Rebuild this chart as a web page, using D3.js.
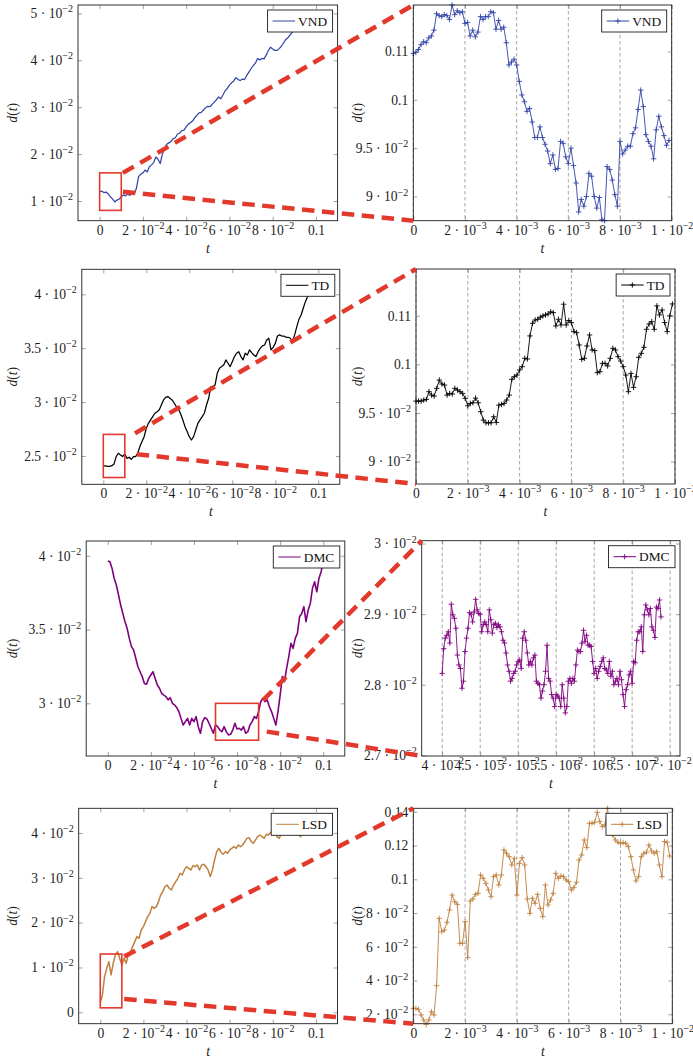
<!DOCTYPE html>
<html>
<head>
<meta charset="utf-8">
<script src="https://cdn.jsdelivr.net/npm/d3@7"></script>
<style>
  body { margin: 0; background: #fff; }
  svg { display: block; }
  text { font-family: "Liberation Serif", "Times New Roman", serif; }
</style>
</head>
<body>
<svg id="fig" width="693" height="1059"></svg>
<script>
// ---------- data ----------
// Full runs, sampled every 1e-3 starting at t = 0
const mainStep = 0.001;
const vndMain = [
  0.0120,0.0121,0.0118,0.0119,0.0115,0.0109,0.0104,0.0098,0.0102,0.0104,
  0.0109,0.0113,0.0111,0.0115,0.0112,0.0118,0.0115,0.0127,0.0152,0.0157,
  0.0160,0.0166,0.0162,0.0173,0.0177,0.0182,0.0194,0.0189,0.0180,0.0200,
  0.0212,0.0221,0.0224,0.0227,0.0233,0.0235,0.0243,0.0245,0.0250,0.0251,
  0.0258,0.0264,0.0267,0.0271,0.0278,0.0283,0.0288,0.0289,0.0294,0.0299,
  0.0302,0.0301,0.0306,0.0311,0.0316,0.0322,0.0318,0.0326,0.0335,0.0340,
  0.0347,0.0352,0.0356,0.0363,0.0359,0.0357,0.0360,0.0359,0.0368,0.0375,
  0.0382,0.0389,0.0394,0.0404,0.0401,0.0404,0.0403,0.0411,0.0421,0.0428,
  0.0424,0.0421,0.0421,0.0425,0.0430,0.0437,0.0444,0.0448,0.0454,0.0460,
  0.0465
];
const tdMain = [
  0.02407,0.02407,0.02404,0.02404,0.02410,0.02426,0.02494,0.02525,0.02509,0.02494,
  0.02519,0.02478,0.02488,0.02469,0.02494,0.02494,0.02525,0.02587,0.02633,0.02679,
  0.02757,0.02803,0.02834,0.02865,0.02896,0.02911,0.02927,0.02973,0.03020,0.03044,
  0.03051,0.03035,0.03020,0.02989,0.02958,0.02933,0.02890,0.02834,0.02772,0.02726,
  0.02679,0.02648,0.02679,0.02741,0.02803,0.02834,0.02865,0.02896,0.02973,0.03035,
  0.03143,0.03143,0.03159,0.03267,0.03313,0.03329,0.03344,0.03391,0.03360,0.03329,
  0.03375,0.03422,0.03453,0.03468,0.03422,0.03391,0.03453,0.03437,0.03484,0.03459,
  0.03437,0.03422,0.03468,0.03499,0.03521,0.03530,0.03576,0.03592,0.03484,0.03508,
  0.03545,0.03613,0.03623,0.03613,0.03613,0.03601,0.03601,0.03592,0.03561,0.03623,
  0.03700,0.03768,0.03808,0.03870,0.03932,0.03978,0.04009
];
const dmcMain = [
  0.03964,0.03959,0.03914,0.03846,0.03801,0.03734,0.03666,0.03609,0.03553,0.03508,
  0.03440,0.03384,0.03361,0.03305,0.03248,0.03214,0.03181,0.03135,0.03129,0.03169,
  0.03192,0.03214,0.03169,0.03124,0.03102,0.03068,0.03056,0.03045,0.03023,0.03038,
  0.03000,0.02989,0.02971,0.02944,0.02898,0.02853,0.02876,0.02898,0.02853,0.02898,
  0.02876,0.02910,0.02842,0.02797,0.02876,0.02903,0.02894,0.02865,0.02831,0.02797,
  0.02853,0.02842,0.02819,0.02808,0.02842,0.02808,0.02786,0.02790,0.02819,0.02865,
  0.02826,0.02831,0.02819,0.02842,0.02797,0.02808,0.02853,0.02876,0.02910,0.02898,
  0.02944,0.03011,0.03034,0.03011,0.03023,0.02977,0.02944,0.02898,0.02853,0.02944,
  0.03056,0.03181,0.03147,0.03237,0.03316,0.03406,0.03372,0.03440,0.03474,0.03587,
  0.03609,0.03655,0.03553,0.03632,0.03677,0.03779,0.03824,0.03756,0.03846,0.03892,
  0.03959
];
const lsdMain = [
  0.00223,0.00387,0.00796,0.00981,0.01130,0.00833,0.01093,0.01279,0.01353,0.01204,
  0.01056,0.01204,0.01093,0.01294,0.01353,0.01465,0.01576,0.01688,0.01651,0.01836,
  0.01911,0.02022,0.02134,0.02208,0.02357,0.02320,0.02357,0.02468,0.02617,0.02691,
  0.02803,0.02840,0.02766,0.02729,0.02840,0.02915,0.02989,0.03100,0.03063,0.03175,
  0.03249,0.03212,0.03175,0.03271,0.03249,0.03286,0.03175,0.03286,0.03301,0.03249,
  0.03175,0.03026,0.03175,0.03398,0.03584,0.03658,0.03569,0.03524,0.03584,0.03546,
  0.03621,0.03658,0.03695,0.03658,0.03732,0.03695,0.03732,0.03807,0.03881,0.03896,
  0.03807,0.03770,0.03844,0.03918,0.03955,0.03918,0.03881,0.03970,0.03955,0.04015,
  0.03993,0.04045,0.03918,0.03881,0.03993,0.04015,0.04067,0.04045,0.04015,0.04067,
  0.04104,0.04030,0.03955,0.03918,0.04067
];

// Close-up runs, sampled every 1e-4 starting at t = 0
const zoomStep = 0.0001;
const vndZoom = [
  0.1048,0.1049,0.1052,0.1057,0.1060,0.1059,0.1064,0.1066,0.1072,0.1089,
  0.1087,0.1086,0.1088,0.1087,0.1083,0.1098,0.1088,0.1092,0.1090,0.1091,
  0.1079,0.1080,0.1066,0.1072,0.1065,0.1070,0.1086,0.1083,0.1086,0.1086,
  0.1091,0.1090,0.1073,0.1082,0.1073,0.1075,0.1059,0.1036,0.1039,0.1042,
  0.1036,0.1019,0.1005,0.0998,0.0988,0.0991,0.0977,0.0961,0.0961,0.0972,
  0.0961,0.0954,0.0947,0.0934,0.0943,0.0928,0.0929,0.0957,0.0955,0.0941,
  0.0934,0.0950,0.0932,0.0914,0.0884,0.0897,0.0890,0.0900,0.0924,0.0921,
  0.0900,0.0888,0.0899,0.0876,0.0875,0.0931,0.0928,0.0917,0.0902,0.0890,
  0.0957,0.0944,0.0948,0.0952,0.0952,0.0965,0.0971,0.0990,0.1010,0.0993,
  0.0964,0.0957,0.0952,0.0939,0.0969,0.0983,0.0972,0.0963,0.0953,0.0958
];
const tdZoom = [
  0.09622,0.09622,0.09622,0.09633,0.09640,0.09719,0.09684,0.09674,0.09753,0.09839,
  0.09798,0.09787,0.09684,0.09701,0.09695,0.09753,0.09736,0.09719,0.09701,0.09650,
  0.09574,0.09598,0.09605,0.09653,0.09605,0.09513,0.09427,0.09399,0.09399,0.09399,
  0.09461,0.09403,0.09581,0.09588,0.09598,0.09633,0.09684,0.09846,0.09873,0.09890,
  0.09942,0.09976,0.10062,0.10055,0.10292,0.10422,0.10456,0.10463,0.10484,0.10498,
  0.10508,0.10518,0.10539,0.10532,0.10395,0.10463,0.10405,0.10618,0.10405,0.10450,
  0.10429,0.10336,0.10326,0.10199,0.10051,0.10062,0.10189,0.10302,0.10148,0.10141,
  0.09914,0.09924,0.10010,0.10010,0.09983,0.10062,0.10165,0.10148,0.10079,0.10034,
  0.09976,0.09890,0.09719,0.09907,0.09763,0.09873,0.10072,0.10113,0.10175,0.10360,
  0.10415,0.10439,0.10360,0.10601,0.10508,0.10559,0.10429,0.10336,0.10498,0.10621
];
const lsdZoom = [
  0.02353,0.02353,0.02294,0.01958,0.01661,0.01404,0.01661,0.02155,0.01958,0.03697,
  0.07688,0.06898,0.06996,0.07451,0.08182,0.09071,0.08676,0.08518,0.06206,0.06206,
  0.07490,0.05356,0.08716,0.08834,0.09111,0.09170,0.10257,0.10059,0.09763,0.09368,
  0.08972,0.10158,0.10257,0.09664,0.10257,0.11739,0.11541,0.11344,0.10850,0.11245,
  0.09071,0.10948,0.11284,0.10850,0.08834,0.07984,0.08874,0.08577,0.09111,0.08281,
  0.07787,0.09664,0.08478,0.08775,0.09170,0.10356,0.10059,0.10198,0.10158,0.09960,
  0.09862,0.09368,0.09506,0.09822,0.11146,0.11442,0.12332,0.11877,0.13320,0.13320,
  0.13379,0.13972,0.13419,0.13122,0.13221,0.14209,0.12924,0.12628,0.12332,0.12193,
  0.12134,0.12174,0.12134,0.11936,0.11344,0.10553,0.09901,0.10158,0.11344,0.11541,
  0.11601,0.12035,0.11680,0.11541,0.11640,0.10850,0.10158,0.12233,0.12193,0.11383
];
// DMC close-up, sampled every 2e-4 starting at t = 0.04
const dmcZoomStart = 0.04;
const dmcZoomStep = 0.0002;
const dmcZoom = [
  0.02816,0.02851,0.02866,0.02870,0.02875,0.02859,0.02914,0.02899,0.02894,0.02880,
  0.02842,0.02828,0.02823,0.02795,0.02805,0.02847,0.02866,0.02880,0.02902,0.02900,
  0.02889,0.02903,0.02921,0.02906,0.02901,0.02900,0.02875,0.02885,0.02889,0.02885,
  0.02875,0.02906,0.02892,0.02873,0.02885,0.02887,0.02881,0.02885,0.02882,0.02875,
  0.02863,0.02859,0.02845,0.02828,0.02819,0.02805,0.02809,0.02816,0.02819,0.02828,
  0.02833,0.02835,0.02823,0.02866,0.02875,0.02863,0.02845,0.02828,0.02833,0.02828,
  0.02838,0.02842,0.02805,0.02802,0.02800,0.02781,0.02791,0.02800,0.02819,0.02856,
  0.02809,0.02805,0.02786,0.02781,0.02769,0.02786,0.02784,0.02781,0.02769,0.02800,
  0.02781,0.02760,0.02769,0.02805,0.02809,0.02802,0.02809,0.02805,0.02828,0.02849,
  0.02847,0.02847,0.02859,0.02877,0.02861,0.02870,0.02856,0.02856,0.02854,0.02833,
  0.02816,0.02823,0.02809,0.02819,0.02826,0.02833,0.02838,0.02823,0.02821,0.02816,
  0.02833,0.02812,0.02819,0.02800,0.02805,0.02809,0.02800,0.02819,0.02807,0.02786,
  0.02769,0.02793,0.02800,0.02814,0.02819,0.02802,0.02833,0.02831,0.02863,0.02875,
  0.02875,0.02882,0.02847,0.02899,0.02913,0.02906,0.02899,0.02908,0.02882,0.02877,
  0.02867,0.02910,0.02908,0.02920,0.02896
];

// tick values
const mainTimeTicks = [0, 0.02, 0.04, 0.06, 0.08, 0.1];
const zoomTimeTicks = [0, 0.002, 0.004, 0.006, 0.008, 0.01];
const dmcZoomTimeTicks = [0.04, 0.045, 0.05, 0.055, 0.06, 0.065, 0.07];
const vndMainTicks = [0.01, 0.02, 0.03, 0.04, 0.05];
const tdMainTicks = [0.025, 0.03, 0.035, 0.04];
const dmcMainTicks = [0.03, 0.035, 0.04];
const lsdMainTicks = [0, 0.01, 0.02, 0.03, 0.04];
const vndZoomTicks = [0.09, 0.095, 0.1, 0.105];
const tdZoomTicks = [0.09, 0.095, 0.1, 0.105];
const dmcZoomTicks = [0.027, 0.028, 0.029, 0.03];
const lsdZoomTicks = [0.02, 0.04, 0.06, 0.08, 0.1, 0.12, 0.14];

// ---------- drawing ----------
const svg = d3.select("#fig");
const defs = svg.append("defs");
const FONT = '"Liberation Serif", "Times New Roman", serif';
const RED = "#e2392c";

// pgfplots-like number formatting: fixed for >= 0.1, otherwise m · 10^e
function tickParts(v) {
  if (Math.abs(v) < 1e-12) return { m: "0" };
  if (Math.abs(v) >= 0.1 - 1e-12) return { m: String(Math.round(v * 100 + 1e-9) / 100) };
  const e = Math.floor(Math.log10(Math.abs(v)) + 1e-9);
  const m = Math.round(v / Math.pow(10, e) * 100 + 1e-9) / 100;
  return { m: m + " · 10", e: "−" + (-e) };
}
function writeTick(sel, v) {
  const p = tickParts(v);
  sel.text(null);
  sel.append("tspan").text(p.m);
  if (p.e) sel.append("tspan").attr("dy", "-0.58em").attr("font-size", "0.74em").text(p.e);
}
const plusPath = s => `M${-s},0H${s}M0,${-s}V${s}`;

function drawPanel(p) {
  const { x0, x1, y0, y1 } = p.box;
  const x = d3.scaleLinear().domain(p.xDomain).range([x0, x1]);
  const y = d3.scaleLinear().domain(p.yDomain).range([y1, y0]);
  const g = svg.append("g");
  defs.append("clipPath").attr("id", "clip-" + p.id).append("rect")
    .attr("x", x0).attr("y", y0).attr("width", x1 - x0).attr("height", y1 - y0);

  if (p.grid) {
    g.append("g").selectAll("line").data(p.xTicks).join("line")
      .attr("x1", d => x(d)).attr("x2", d => x(d)).attr("y1", y0).attr("y2", y1)
      .attr("stroke", "#8f8f8f").attr("stroke-width", 0.8).attr("stroke-dasharray", "3.5,2.5");
  }

  const tl = 4;
  const axB = g.append("g").attr("transform", `translate(0,${y1})`)
    .call(d3.axisBottom(x).tickValues(p.xTicks).tickSizeInner(-tl).tickSizeOuter(0).tickPadding(4.5));
  const axL = g.append("g").attr("transform", `translate(${x0},0)`)
    .call(d3.axisLeft(y).tickValues(p.yTicks).tickSizeInner(-tl).tickSizeOuter(0).tickPadding(5));
  const axT = g.append("g").attr("transform", `translate(0,${y0})`)
    .call(d3.axisTop(x).tickValues(p.xTicks).tickSizeInner(-tl).tickSizeOuter(0).tickFormat(() => ""));
  const axR = g.append("g").attr("transform", `translate(${x1},0)`)
    .call(d3.axisRight(y).tickValues(p.yTicks).tickSizeInner(-tl).tickSizeOuter(0).tickFormat(() => ""));
  [axB, axL, axT, axR].forEach(a => {
    a.select(".domain").remove();
    a.attr("color", "#8a8a8a").attr("font-family", FONT).attr("font-size", 13.6);
    a.selectAll(".tick line").attr("stroke-width", 0.8);
    a.selectAll(".tick text").attr("fill", "#1c1c1c");
  });
  axB.selectAll(".tick text").each(function (d) { writeTick(d3.select(this), d); });
  axL.selectAll(".tick text").each(function (d) { writeTick(d3.select(this), d); });

  const pts = p.values.map((v, i) => [p.t0 + i * p.step, v]);
  g.append("path").datum(pts)
    .attr("clip-path", `url(#clip-${p.id})`)
    .attr("fill", "none").attr("stroke", p.color).attr("stroke-width", p.lineWidth)
    .attr("stroke-linejoin", "round")
    .attr("d", d3.line().x(d => x(d[0])).y(d => y(d[1])));
  if (p.markers) {
    g.append("g").selectAll("path").data(pts).join("path")
      .attr("transform", d => `translate(${x(d[0])},${y(d[1])})`)
      .attr("d", plusPath(2.7)).attr("fill", "none")
      .attr("stroke", p.color).attr("stroke-width", 0.9);
  }

  g.append("rect").attr("x", x0).attr("y", y0).attr("width", x1 - x0).attr("height", y1 - y0)
    .attr("fill", "none").attr("stroke", "#1c1c1c").attr("stroke-width", 0.9);

  if (p.spot) {
    const [ta, tb, da, db] = p.spot;
    g.append("rect").attr("x", x(ta)).attr("y", y(db)).attr("width", x(tb) - x(ta)).attr("height", y(da) - y(db))
      .attr("fill", "none").attr("stroke", RED).attr("stroke-width", 1.6);
  }

  // legend
  const lg = g.append("g");
  const lt = lg.append("text").attr("x", 30.5).attr("y", 15.6).attr("font-size", 13.4).attr("fill", "#111").text(p.name);
  const w = 30.5 + lt.node().getComputedTextLength() + 5.5;
  lg.insert("rect", "text").attr("width", w).attr("height", 22)
    .attr("fill", "#fff").attr("stroke", "#1c1c1c").attr("stroke-width", 0.9);
  lg.append("line").attr("x1", 5).attr("x2", 27.5).attr("y1", 11).attr("y2", 11)
    .attr("stroke", p.color).attr("stroke-width", 1);
  if (p.markers) {
    lg.append("path").attr("transform", "translate(16.2,11)").attr("d", plusPath(2.7))
      .attr("stroke", p.color).attr("stroke-width", 0.9).attr("fill", "none");
  }
  lg.attr("transform", `translate(${x1 - 5 - w},${y0 + 5})`);

  // axis labels
  const xl = g.append("text").attr("x", (x0 + x1) / 2).attr("y", y1 + 32)
    .attr("text-anchor", "middle").attr("font-size", 13.6).attr("fill", "#1c1c1c");
  xl.append("tspan").attr("font-style", "italic").text("t");
  const yl = g.append("text").attr("transform", `translate(${p.yLabelX},${(y0 + y1) / 2}) rotate(-90)`)
    .attr("text-anchor", "middle").attr("dy", "0.3em").attr("font-size", 13.6).attr("fill", "#1c1c1c");
  yl.append("tspan").attr("font-style", "italic").text("d");
  yl.append("tspan").text("(");
  yl.append("tspan").attr("font-style", "italic").text("t");
  yl.append("tspan").text(")");

  return { x, y, box: p.box };
}

const rows = [
  {
    main: { id: "vnd-main", name: "VND", color: "#3345a8", values: vndMain, t0: 0, step: mainStep, lineWidth: 1.25,
      xDomain: [-0.01, 0.11], yDomain: [0.0058, 0.0518], xTicks: mainTimeTicks, yTicks: vndMainTicks,
      box: { x0: 78, x1: 337.6, y0: 5, y1: 220.7 }, yLabelX: 13.3, spot: [0, 0.01, 0.008, 0.016] },
    zoom: { id: "vnd-zoom", name: "VND", color: "#3345a8", values: vndZoom, t0: 0, step: zoomStep, lineWidth: 0.9,
      markers: true, grid: true,
      xDomain: [0, 0.01], yDomain: [0.0875, 0.1098], xTicks: zoomTimeTicks, yTicks: vndZoomTicks,
      box: { x0: 413.3, x1: 671.7, y0: 5, y1: 220.7 }, yLabelX: 358 },
    link: { upper: [0.01076, 0.0160], lower: [0.01076, 0.01198] }
  },
  {
    main: { id: "td-main", name: "TD", color: "#000000", values: tdMain, t0: 0, step: mainStep, lineWidth: 1.25,
      xDomain: [-0.01, 0.11], yDomain: [0.02237, 0.04232], xTicks: mainTimeTicks, yTicks: tdMainTicks,
      box: { x0: 81.8, x1: 339.8, y0: 269.3, y1: 484.3 }, yLabelX: 13.3, spot: [0, 0.01, 0.023, 0.027] },
    zoom: { id: "td-zoom", name: "TD", color: "#000000", values: tdZoom, t0: 0, step: zoomStep, lineWidth: 0.9,
      markers: true, grid: true,
      xDomain: [0, 0.01], yDomain: [0.0877, 0.1098], xTicks: zoomTimeTicks, yTicks: tdZoomTicks,
      box: { x0: 416, x1: 675, y0: 269, y1: 484 }, yLabelX: 358 },
    link: { upper: [0.01474, 0.0271], lower: [0.01553, 0.02516] }
  },
  {
    main: { id: "dmc-main", name: "DMC", color: "#800080", values: dmcMain, t0: 0, step: mainStep, lineWidth: 1.6,
      xDomain: [-0.01, 0.11], yDomain: [0.02643, 0.0410], xTicks: mainTimeTicks, yTicks: dmcMainTicks,
      box: { x0: 86.2, x1: 344.8, y0: 541, y1: 756 }, yLabelX: 13.3, spot: [0.05, 0.07, 0.0275, 0.03] },
    zoom: { id: "dmc-zoom", name: "DMC", color: "#800080", values: dmcZoom, t0: dmcZoomStart, step: dmcZoomStep, lineWidth: 0.9,
      markers: true, grid: true,
      xDomain: [0.0373, 0.0713], yDomain: [0.02699, 0.03004], xTicks: dmcZoomTimeTicks, yTicks: dmcZoomTicks,
      box: { x0: 421.7, x1: 680, y0: 540.7, y1: 756 }, yLabelX: 358 },
    link: { upper: [0.0721, 0.03022], lower: [0.0738, 0.02808] }
  },
  {
    main: { id: "lsd-main", name: "LSD", color: "#bf8040", values: lsdMain, t0: 0, step: mainStep, lineWidth: 1.5,
      xDomain: [-0.01, 0.11], yDomain: [-0.00254, 0.0455], xTicks: mainTimeTicks, yTicks: lsdMainTicks,
      box: { x0: 78.7, x1: 337.5, y0: 808.3, y1: 1023.7 }, yLabelX: 13.3, spot: [0, 0.01, 0.001, 0.013] },
    zoom: { id: "lsd-zoom", name: "LSD", color: "#bf8040", values: lsdZoom, t0: 0, step: zoomStep, lineWidth: 0.9,
      markers: true, grid: true,
      xDomain: [0, 0.01], yDomain: [0.01444, 0.14209], xTicks: zoomTimeTicks, yTicks: lsdZoomTicks,
      box: { x0: 413.3, x1: 672.3, y0: 808.3, y1: 1023.7 }, yLabelX: 357.7 },
    link: { upper: [0.0111, 0.01245], lower: [0.0111, 0.00297] }
  }
];

const drawn = rows.map(r => ({ main: drawPanel(r.main), zoom: drawPanel(r.zoom), link: r.link }));

// dashed connectors from the highlighted region to the close-up frame
const overlay = svg.append("g");
drawn.forEach(d => {
  const { x, y } = d.main;
  const zb = d.zoom.box;
  const segs = [
    [x(d.link.upper[0]), y(d.link.upper[1]), zb.x0, zb.y0],
    [x(d.link.lower[0]), y(d.link.lower[1]), zb.x0, zb.y1]
  ];
  overlay.selectAll(null).data(segs).join("line")
    .attr("x1", s => s[0]).attr("y1", s => s[1]).attr("x2", s => s[2]).attr("y2", s => s[3])
    .attr("stroke", RED).attr("stroke-width", 4.5).attr("stroke-dasharray", "12.5,7.5");
});
</script>
</body>
</html>
